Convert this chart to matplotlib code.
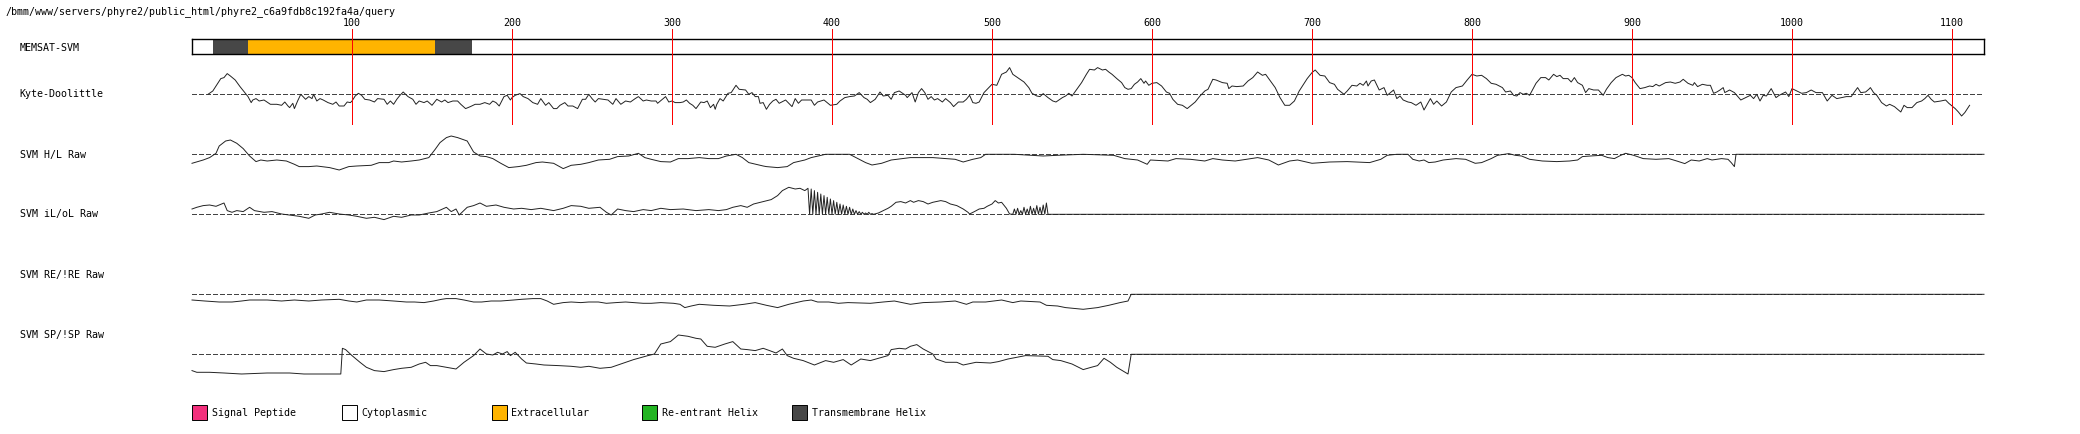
import matplotlib
matplotlib.use("Agg")
from matplotlib import pyplot as plt
from matplotlib.patches import Rectangle

plt.rcParams["font.family"] = ["DejaVu Sans Mono"]
plt.rcParams["font.size"] = 7.2
plt.rcParams["lines.antialiased"] = False

W, H = 2080, 435
X0, X1 = 192, 1984  # pixel edges of the residue axis

path_title = "/bmm/www/servers/phyre2/public_html/phyre2_c6a9fdb8c192fa4a/query"
seq_len = 1120
ruler_ticks = [100, 200, 300, 400, 500, 600, 700, 800, 900, 1000, 1100]

# MEMSAT-SVM topology segments (residues)
memsat_start = [0, 13, 35, 152, 175]
memsat_end = [13, 35, 152, 175, 1120]
memsat_kind = ["Cytoplasmic", "Transmembrane Helix", "Extracellular",
               "Transmembrane Helix", "Cytoplasmic"]

legend_names = ["Signal Peptide", "Cytoplasmic", "Extracellular",
                "Re-entrant Helix", "Transmembrane Helix"]
legend_colors = ["#f2307c", "#ffffff", "#ffb400", "#22b422", "#474747"]

# (residue, score)
kd = [(10, 0.00), (13, 0.33), (15, 0.83), (18, 1.57), (20, 1.67), (22, 2.07), (24, 1.83), (27, 1.43),
      (30, 0.77), (33, 0.17), (35, -0.23), (37, -0.83), (38, -0.57), (40, -0.43), (42, -0.67), (45, -0.57),
      (49, -1.00), (53, -1.00), (56, -1.10), (58, -0.77), (60, -1.17), (61, -1.33), (63, -0.90), (64, -1.43),
      (66, -0.67), (68, 0.00), (71, -0.50), (73, -0.23), (75, -0.43), (76, 0.00), (78, -0.67), (80, -0.43),
      (82, -0.57), (85, -0.83), (88, -1.00), (90, -0.77), (92, -1.17), (95, -1.17), (97, -0.77), (99, -0.83),
      (100, -0.67), (102, -0.17), (104, 0.10), (106, -0.10), (108, -0.50), (111, -0.57), (114, -0.77),
      (116, -0.43), (120, -0.50), (122, -1.00), (124, -0.67), (126, -1.00), (128, -0.50), (130, -0.10),
      (132, 0.23), (135, -0.23), (138, -0.50), (140, -1.00), (142, -0.67), (145, -0.83), (147, -0.67),
      (150, -1.10), (153, -0.50), (156, -0.77), (158, -0.57), (160, -0.83), (163, -0.67), (166, -0.67),
      (168, -1.00), (171, -1.43), (174, -1.23), (177, -1.00), (180, -1.00), (183, -0.83), (186, -1.00),
      (188, -0.67), (190, -0.83), (192, -1.17), (195, -0.23), (197, -0.10), (199, -0.57), (200, -0.33),
      (202, -0.10), (205, 0.07), (207, -0.23), (210, -0.43), (213, -0.83), (216, -1.00), (218, -0.43),
      (221, -1.10), (223, -0.83), (226, -1.43), (228, -1.43), (230, -1.10), (233, -0.83), (235, -1.17),
      (238, -1.17), (241, -1.43), (244, -0.50), (246, -0.50), (248, 0.00), (250, -0.43), (252, -0.77),
      (254, -0.43), (257, -0.50), (260, -0.57), (263, -1.00), (265, -0.43), (268, -1.00), (271, -0.67),
      (274, -0.77), (277, -0.43), (279, -0.23), (282, -0.67), (284, -0.57), (287, -0.67), (290, -0.67),
      (291, -0.90), (294, -0.50), (296, -0.23), (298, -0.77), (300, -0.67), (302, -0.83), (305, -0.83),
      (307, -0.77), (309, -0.57), (311, -0.90), (313, -1.10), (315, -1.43), (318, -0.77), (320, -0.83),
      (322, -0.67), (324, -1.33), (326, -1.00), (327, -1.50), (328, -1.00), (330, -0.43), (332, -0.67),
      (335, 0.10), (337, 0.17), (340, 0.90), (342, 0.50), (346, 0.43), (348, 0.00), (350, 0.17), (352, -0.23),
      (354, -0.23), (355, -0.90), (357, -0.83), (359, -1.50), (361, -1.00), (363, -0.67), (365, -0.50),
      (367, -0.90), (371, -0.57), (373, -0.90), (375, -1.23), (377, -0.43), (379, -0.90), (381, -0.57),
      (384, -0.57), (387, -0.57), (389, -1.10), (391, -0.77), (395, -0.57), (397, -0.83), (399, -1.10),
      (403, -1.00), (405, -0.67), (408, -0.33), (411, -0.23), (414, -0.17), (417, 0.17), (420, -0.33),
      (422, -0.50), (424, -0.83), (427, -0.50), (430, 0.23), (432, -0.17), (435, -0.10), (437, -0.50),
      (439, 0.17), (442, 0.33), (446, -0.10), (447, -0.33), (450, 0.17), (452, -0.77), (454, 0.17),
      (456, 0.57), (458, 0.17), (460, -0.50), (462, -0.23), (464, -0.57), (466, -0.43), (469, -0.77),
      (471, -0.43), (474, -0.83), (476, -1.23), (479, -0.77), (482, -0.77), (484, -0.50), (486, -0.10),
      (488, -0.83), (490, -0.90), (492, -0.77), (495, 0.17), (498, 0.67), (500, 1.00), (503, 0.90),
      (506, 2.00), (509, 2.23), (511, 2.67), (513, 2.00), (516, 1.67), (520, 1.23), (523, 0.67), (525, 0.10),
      (528, -0.17), (530, -0.23), (532, 0.07), (535, -0.33), (538, -0.67), (540, -0.77), (544, -0.33),
      (546, -0.17), (548, 0.10), (550, -0.17), (553, 0.50), (556, 1.17), (559, 2.00), (561, 2.50),
      (564, 2.43), (566, 2.67), (569, 2.43), (571, 2.50), (573, 2.23), (575, 2.00), (578, 1.57), (581, 1.17),
      (583, 0.67), (585, 0.50), (587, 0.57), (589, 1.00), (591, 1.23), (593, 1.57), (595, 1.10), (596, 1.33),
      (598, 0.90), (600, 1.10), (603, 1.17), (606, 0.83), (609, 0.23), (611, 0.10), (613, -0.50),
      (616, -1.00), (619, -1.10), (622, -1.43), (624, -1.17), (627, -0.77), (630, -0.17), (633, 0.33),
      (635, 0.50), (638, 1.50), (640, 1.43), (644, 1.17), (647, 1.10), (648, 0.57), (650, 0.83), (653, 0.77),
      (657, 0.83), (660, 1.33), (663, 1.67), (666, 2.23), (669, 1.90), (671, 2.00), (674, 1.33), (677, 0.67),
      (680, -0.33), (683, -1.10), (686, -1.10), (689, -0.67), (692, 0.33), (697, 1.57), (700, 2.17),
      (702, 2.43), (705, 1.90), (708, 1.83), (711, 1.17), (714, 1.00), (716, 0.50), (720, 0.00), (722, 0.33),
      (725, 0.90), (728, 0.83), (730, 1.10), (732, 0.90), (734, 1.33), (735, 0.83), (737, 1.33), (739, 1.43),
      (742, 0.43), (745, 0.67), (747, -0.10), (749, 0.17), (751, 0.43), (753, -0.43), (755, -0.17),
      (757, -0.57), (760, -0.77), (762, -0.83), (765, -1.10), (768, -0.77), (770, -1.57), (772, -1.00),
      (774, -0.43), (776, -1.00), (778, -0.67), (781, -1.17), (784, -0.77), (787, 0.23), (790, 0.67),
      (794, 0.83), (797, 1.43), (800, 2.00), (803, 1.83), (806, 1.90), (809, 1.57), (812, 1.10), (815, 1.00),
      (819, 0.67), (821, 0.23), (824, 0.33), (826, -0.10), (828, -0.17), (830, 0.17), (832, 0.00),
      (834, 0.10), (836, -0.10), (838, 0.50), (840, 1.10), (843, 1.67), (846, 1.67), (848, 1.43), (851, 2.00),
      (853, 1.77), (855, 1.90), (857, 1.57), (860, 1.57), (862, 1.23), (864, 1.67), (866, 1.17), (869, 0.90),
      (871, 0.17), (873, 0.57), (876, 0.43), (879, 0.43), (882, -0.10), (884, 0.50), (887, 1.17), (890, 1.67),
      (894, 2.00), (896, 1.83), (898, 1.90), (900, 1.67), (902, 1.17), (905, 0.57), (908, 0.67), (911, 0.83),
      (913, 0.77), (915, 1.00), (917, 0.83), (921, 1.17), (924, 1.23), (927, 1.10), (930, 1.23), (932, 1.50),
      (935, 1.10), (938, 0.90), (939, 1.17), (941, 0.77), (944, 1.00), (947, 0.90), (949, 0.90), (951, 0.10),
      (953, 0.23), (955, 0.43), (957, 0.67), (958, 0.17), (961, 0.43), (964, 0.17), (968, -0.57),
      (971, -0.33), (974, -0.10), (976, -0.43), (978, 0.00), (980, -0.67), (982, -0.10), (984, -0.17),
      (987, 0.57), (990, -0.33), (992, -0.10), (996, 0.23), (998, -0.23), (1000, 0.57), (1003, 0.33),
      (1006, 0.10), (1009, 0.17), (1012, 0.43), (1015, 0.17), (1019, 0.17), (1022, -0.67), (1025, -0.10),
      (1028, -0.43), (1031, -0.33), (1034, -0.23), (1037, -0.23), (1039, 0.23), (1041, 0.67), (1043, 0.17),
      (1046, 0.23), (1048, 0.50), (1049, 0.67), (1051, 0.17), (1053, -0.10), (1056, -0.83), (1059, -1.17),
      (1061, -1.00), (1064, -1.23), (1068, -1.77), (1070, -1.10), (1072, -1.33), (1075, -1.33), (1078, -0.83),
      (1081, -0.67), (1083, -0.43), (1085, -0.10), (1087, -0.50), (1089, -0.77), (1093, -0.67), (1096, -0.57),
      (1098, -0.90), (1100, -1.17), (1102, -1.43), (1104, -1.77), (1106, -2.17), (1108, -1.83), (1111, -1.10)]

hl = [(0, -0.90), (7, -0.57), (11, -0.33), (15, 0.10), (17, 0.83), (21, 1.33), (24, 1.43), (28, 1.10),
      (32, 0.57), (36, -0.17), (40, -0.73), (43, -0.57), (47, -0.67), (53, -0.57), (59, -0.67), (64, -1.00),
      (67, -1.23), (73, -1.23), (78, -1.17), (86, -1.33), (92, -1.57), (98, -1.23), (103, -1.17), (112, -1.10),
      (117, -0.83), (123, -0.83), (126, -0.67), (131, -0.77), (137, -0.67), (142, -0.57), (148, -0.33),
      (152, 0.50), (155, 1.17), (159, 1.67), (162, 1.83), (166, 1.67), (172, 1.33), (176, 0.23), (180, -0.17),
      (184, -0.23), (188, -0.43), (193, -0.90), (198, -1.33), (204, -1.23), (209, -1.10), (215, -0.83),
      (219, -0.77), (226, -0.90), (232, -1.43), (237, -1.10), (243, -1.00), (248, -0.83), (254, -0.57),
      (261, -0.50), (266, -0.23), (273, -0.17), (279, 0.10), (283, -0.33), (287, -0.50), (293, -0.73),
      (299, -0.77), (304, -0.43), (310, -0.43), (317, -0.33), (323, -0.43), (329, -0.43), (334, -0.17),
      (340, 0.00), (344, -0.33), (348, -0.83), (357, -1.17), (359, -1.23), (366, -1.33), (372, -1.23),
      (376, -0.83), (383, -0.57), (387, -0.33), (396, 0.00), (411, 0.00), (415, -0.33), (421, -0.83),
      (425, -1.07), (431, -0.90), (437, -0.57), (449, -0.33), (463, -0.33), (471, -0.43), (477, -0.50),
      (482, -0.77), (488, -0.50), (493, -0.33), (496, 0.00), (514, 0.00), (524, -0.10), (532, -0.17),
      (541, -0.10), (557, 0.00), (576, -0.10), (583, -0.43), (591, -0.57), (597, -1.00), (599, -0.57),
      (610, -0.67), (615, -0.43), (624, -0.50), (633, -0.67), (638, -0.43), (644, -0.57), (652, -0.67),
      (666, -0.33), (673, -0.57), (679, -1.07), (686, -0.67), (691, -0.57), (700, -0.90), (711, -0.77),
      (722, -0.73), (736, -0.83), (743, -0.50), (747, -0.10), (753, 0.00), (760, 0.00), (763, -0.50),
      (767, -0.67), (770, -0.57), (773, -0.83), (777, -0.77), (782, -0.57), (790, -0.43), (796, -0.50),
      (800, -0.77), (802, -0.90), (806, -0.83), (812, -0.43), (816, -0.10), (823, 0.07), (827, -0.10),
      (831, -0.17), (836, -0.50), (844, -0.67), (853, -0.73), (861, -0.67), (866, -0.57), (869, -0.23),
      (874, -0.17), (881, -0.10), (885, -0.33), (889, -0.43), (893, -0.10), (896, 0.10), (901, -0.10),
      (907, -0.43), (915, -0.50), (923, -0.43), (928, -0.67), (933, -0.93), (937, -0.57), (942, -0.67),
      (947, -0.43), (950, -0.57), (956, -0.43), (960, -0.50), (962, -0.83), (964, -1.23), (965, 0.00),
      (1120, 0.00)]

iloL = [(0, 0.53), (3, 0.70), (7, 0.87), (11, 0.93), (15, 0.80), (20, 1.13), (22, 0.37), (25, 0.20),
        (28, 0.37), (32, 0.27), (36, 0.70), (39, 0.37), (45, 0.20), (50, 0.27), (56, 0.03), (61, -0.07),
        (67, -0.20), (73, -0.40), (77, -0.07), (81, 0.03), (86, 0.20), (92, 0.03), (98, -0.07), (103, -0.20),
        (109, -0.40), (114, -0.30), (120, -0.53), (126, -0.20), (131, -0.30), (137, -0.07), (142, -0.07),
        (148, 0.13), (153, 0.27), (159, 0.70), (162, 0.27), (165, 0.53), (167, -0.07), (172, 0.70),
        (176, 0.87), (180, 1.13), (184, 0.80), (190, 0.93), (195, 0.70), (201, 0.53), (206, 0.60),
        (212, 0.47), (218, 0.60), (226, 0.37), (232, 0.60), (237, 0.87), (243, 0.80), (248, 0.60),
        (255, 0.70), (259, 0.20), (262, -0.07), (266, 0.53), (271, 0.37), (276, 0.27), (282, 0.47),
        (287, 0.37), (293, 0.60), (299, 0.47), (307, 0.53), (315, 0.37), (323, 0.47), (329, 0.37),
        (334, 0.47), (338, 0.70), (343, 0.87), (347, 0.70), (351, 1.03), (357, 1.27), (362, 1.47),
        (366, 1.87), (369, 2.37), (373, 2.70), (377, 2.53), (380, 2.60), (383, 2.37), (385, 2.60),
        (386, 0.00), (387, 2.53), (388, 0.00), (389, 2.37), (390, 0.00), (391, 2.20), (392, 0.00),
        (393, 2.03), (394, 0.00), (395, 1.87), (396, 0.00), (397, 1.70), (398, 0.00), (399, 1.53),
        (400, 0.00), (401, 1.37), (402, 0.00), (403, 1.20), (404, 0.00), (405, 1.03), (406, 0.00),
        (407, 0.93), (408, 0.00), (409, 0.80), (410, 0.00), (411, 0.70), (412, 0.00), (413, 0.53),
        (414, 0.00), (415, 0.37), (416, 0.00), (417, 0.27), (418, 0.00), (419, 0.20), (420, 0.00),
        (421, 0.13), (422, 0.00), (423, 0.20), (424, 0.00), (425, 0.07), (426, 0.00), (429, 0.13),
        (432, 0.37), (435, 0.60), (437, 0.80), (440, 1.20), (443, 1.27), (446, 1.13), (449, 1.37),
        (451, 1.20), (454, 1.37), (457, 1.27), (460, 1.03), (463, 1.20), (468, 1.37), (471, 1.27),
        (474, 1.03), (478, 0.87), (482, 0.53), (485, 0.20), (486, 0.03), (489, 0.27), (492, 0.53),
        (495, 0.60), (497, 0.80), (500, 1.03), (502, 1.37), (504, 1.13), (506, 1.20), (509, 0.60),
        (511, 0.03), (513, 0.00), (514, 0.53), (515, 0.00), (516, 0.60), (517, 0.00), (518, 0.37),
        (519, 0.00), (520, 0.70), (521, 0.00), (522, 0.53), (523, 0.00), (524, 0.80), (525, 0.00),
        (526, 0.60), (527, 0.00), (528, 0.87), (529, 0.00), (530, 0.70), (531, 0.00), (532, 0.93),
        (533, 0.00), (534, 1.13), (535, 0.00), (1120, 0.00)]

re_ = [(0, -0.57), (8, -0.67), (17, -0.77), (25, -0.77), (31, -0.67), (36, -0.57), (47, -0.57), (56, -0.67),
       (64, -0.57), (73, -0.67), (81, -0.57), (92, -0.50), (98, -0.67), (103, -0.77), (109, -0.57),
       (117, -0.57), (126, -0.67), (134, -0.77), (139, -0.77), (145, -0.83), (151, -0.67), (156, -0.50),
       (159, -0.43), (165, -0.43), (170, -0.57), (176, -0.77), (181, -0.77), (187, -0.67), (193, -0.67),
       (201, -0.57), (206, -0.50), (213, -0.43), (218, -0.43), (222, -0.67), (226, -1.00), (232, -0.83),
       (237, -0.77), (243, -0.83), (248, -0.77), (254, -0.77), (259, -0.90), (265, -0.83), (271, -0.77),
       (276, -0.83), (282, -0.90), (287, -0.90), (293, -0.83), (301, -0.90), (305, -1.00), (308, -1.33),
       (312, -1.17), (317, -1.00), (326, -1.10), (336, -1.17), (345, -1.00), (352, -0.83), (359, -1.10),
       (366, -1.33), (373, -1.00), (382, -0.67), (387, -0.57), (391, -0.77), (398, -0.77), (404, -0.90),
       (410, -0.83), (424, -0.90), (432, -0.77), (439, -0.67), (449, -1.00), (457, -0.83), (468, -0.77),
       (477, -0.67), (484, -1.00), (488, -0.77), (496, -0.77), (506, -0.57), (513, -0.83), (518, -0.67),
       (530, -0.77), (534, -1.10), (541, -1.17), (546, -1.33), (557, -1.50), (566, -1.33), (573, -1.10),
       (580, -0.83), (585, -0.67), (587, 0.00), (1120, 0.00)]

sp = [(0, -1.63), (3, -1.80), (11, -1.80), (20, -1.87), (31, -1.97), (47, -1.87), (61, -1.87), (70, -1.97),
      (81, -1.97), (93, -1.97), (94, 0.60), (96, 0.47), (100, -0.13), (105, -0.80), (109, -1.30),
      (114, -1.63), (120, -1.73), (126, -1.53), (131, -1.40), (137, -1.30), (142, -0.97), (146, -0.80),
      (149, -1.13), (153, -1.13), (159, -1.30), (165, -1.47), (170, -0.80), (176, -0.13), (180, 0.53),
      (184, 0.03), (188, -0.07), (191, 0.20), (194, 0.03), (197, 0.27), (199, -0.13), (202, 0.20),
      (206, -0.47), (209, -0.87), (215, -0.97), (220, -1.07), (229, -1.13), (237, -1.20), (243, -1.30),
      (248, -1.20), (255, -1.40), (262, -1.30), (268, -0.97), (276, -0.53), (285, -0.13), (289, 0.03),
      (293, 1.03), (299, 1.27), (304, 1.93), (310, 1.80), (315, 1.60), (318, 1.53), (322, 0.80), (327, 0.70),
      (333, 1.03), (338, 1.27), (343, 0.53), (347, 0.47), (352, 0.37), (357, 0.60), (361, 0.37), (365, 0.13),
      (369, 0.53), (372, -0.13), (376, -0.40), (382, -0.63), (389, -1.07), (396, -0.63), (401, -0.80),
      (407, -0.53), (412, -1.07), (418, -0.47), (424, -0.63), (429, -0.40), (435, -0.13), (437, 0.47),
      (442, 0.60), (446, 0.53), (449, 0.80), (453, 0.97), (457, 0.53), (463, 0.03), (465, -0.47),
      (471, -0.80), (478, -0.80), (482, -1.07), (490, -0.80), (499, -0.87), (504, -0.73), (510, -0.47),
      (521, -0.13), (535, -0.20), (538, -0.53), (543, -0.63), (550, -0.97), (557, -1.53), (562, -1.30),
      (566, -1.13), (570, -0.40), (574, -0.80), (578, -1.30), (585, -1.97), (587, 0.00), (1120, 0.00)]

track_names = ["Kyte-Doolittle", "SVM H/L Raw", "SVM iL/oL Raw", "SVM RE/!RE Raw", "SVM SP/!SP Raw"]
track_data = [kd, hl, iloL, re_, sp]
track_base = [95.3, 155.3, 215.3, 295.3, 355.3]   # baseline pixel rows
label_rows = [94.3, 155, 214.3, 275, 335]

CURVE = "#222222"
DASH = "#444444"
LW = 0.5

fig = plt.figure(figsize=(W / 100, H / 100), dpi=100)


def px_axes(top, height):
    ax = fig.add_axes([X0 / W, (H - top - height) / H, (X1 - X0) / W, height / H])
    ax.set_xlim(0, seq_len)
    return ax


# MEMSAT-SVM bar
kind_color = dict(zip(legend_names, legend_colors))
axb = px_axes(40.3, 15)
axb.set_ylim(0, 1)
axb.barh(0.5, [e - s for s, e in zip(memsat_start, memsat_end)], left=memsat_start, height=1,
         color=[kind_color[k] for k in memsat_kind], edgecolor="none")
axb.set_xticks([])
axb.set_yticks([])
for sp_ in axb.spines.values():
    sp_.set_linewidth(1.0)
    sp_.set_color("black")

# profile tracks
for base, pts in zip(track_base, track_data):
    ax = px_axes(base - 30, 60)
    ax.set_ylim(-3, 3)
    ax.axis("off")
    ax.axhline(0, color=DASH, lw=LW, ls=(0, (6, 4)))
    xs, ys = zip(*pts)
    ax.plot(xs, ys, color=CURVE, lw=0.7, antialiased=True, clip_on=False)

# residue ruler (red lines over the top two rows)
axr = px_axes(30, 96)
axr.set_ylim(0, 1)
axr.axis("off")
for t in ruler_ticks:
    axr.axvline(t, color="red", lw=LW)
    axr.text(t, 1 + 7 / 96, str(t), ha="center", va="center", color="black", clip_on=False)

# text and legend layer in pixel units
axt = fig.add_axes([0, 0, 1, 1])
axt.set_xlim(0, W)
axt.set_ylim(H, 0)
axt.axis("off")
axt.text(5, 12, path_title, ha="left", va="center")
axt.text(19.5, 47.7, "MEMSAT-SVM", ha="left", va="center")
for name, row in zip(track_names, label_rows):
    axt.text(19.5, row, name, ha="left", va="center")

for i, (name, col) in enumerate(zip(legend_names, legend_colors)):
    x = 192 + 150 * i
    axt.add_patch(Rectangle((x, 405.7), 15, 15, facecolor=col, edgecolor="black", lw=0.7))
    axt.text(x + 19.5, 413.5, name, ha="left", va="center")

fig.savefig("out.png", dpi=100)
